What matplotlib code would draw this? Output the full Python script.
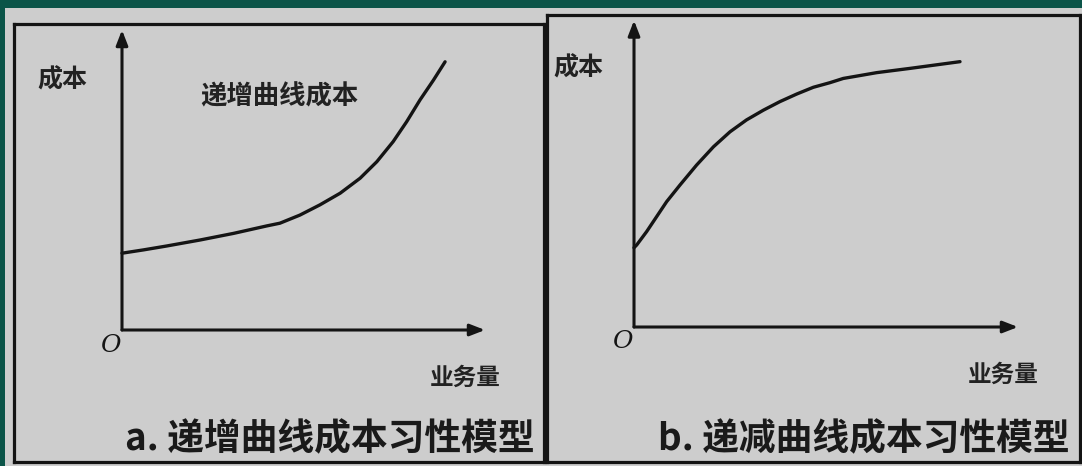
import matplotlib.pyplot as plt
import matplotlib.patches as mpatches

plt.rcParams['font.family'] = ['Noto Sans CJK SC', 'DejaVu Sans']

# curve a: increasing cost (业务量 vs 成本)
qty_a = [0.0, 0.59, 1.23, 2.15, 3.07, 3.99, 4.35, 4.90, 5.45, 6.01, 6.56, 7.02,
         7.47, 7.84, 8.21, 8.58, 8.90]
cost_a = [2.56, 2.67, 2.80, 3.00, 3.22, 3.47, 3.56, 3.83, 4.17, 4.56, 5.06, 5.61,
          6.28, 6.94, 7.67, 8.33, 8.94]

# curve b: decreasing-rate cost
qty_b = [0.0, 0.07, 0.33, 0.59, 0.85, 1.20, 1.63, 2.07, 2.50, 2.93, 3.37, 3.80,
         4.24, 4.67, 5.10, 5.45, 6.32, 7.19, 8.49]
cost_b = [2.60, 2.69, 3.13, 3.62, 4.11, 4.66, 5.31, 5.91, 6.40, 6.79, 7.11, 7.39,
          7.64, 7.86, 8.01, 8.15, 8.34, 8.48, 8.70]

y_label = "成本"
x_label = "业务量"
curve_label_a = "递增曲线成本"
caption_a = "a. 递增曲线成本习性模型"
caption_b = "b. 递减曲线成本习性模型"

W, H = 1082, 466
TEAL = "#0b5448"
GRAY = "#cdcdcd"
INK = "#141414"

fig = plt.figure(figsize=(W / 100, H / 100), dpi=100)
fig.patch.set_facecolor(TEAL)
fig.patches.append(mpatches.Rectangle((5 / W, 0), 1, (H - 8) / H,
                                      transform=fig.transFigure,
                                      facecolor=GRAY, edgecolor="none", zorder=-5))


def px_axes(x0, y0, x1, y1):
    # pixel box (top-left origin) -> figure axes
    return fig.add_axes([x0 / W, 1 - y1 / H, (x1 - x0) / W, (y1 - y0) / H])


def draw_panel(ax, xlim, ylim, qty, cost, ytop):
    ax.set_facecolor(GRAY)
    ax.set_xlim(*xlim)
    ax.set_ylim(*ylim)
    ax.set_xticks([])
    ax.set_yticks([])
    for sp in ax.spines.values():
        sp.set_linewidth(2.3)
        sp.set_color(INK)
    arrow = dict(arrowstyle="-|>,head_length=0.9,head_width=0.35",
                 color=INK, lw=2.2, shrinkA=0, shrinkB=0)
    ax.annotate("", xy=(0, ytop), xytext=(0, 0), arrowprops=arrow)
    ax.annotate("", xy=(10, 0), xytext=(0, 0), arrowprops=arrow)
    ax.plot(qty, cost, color=INK, lw=2.4, solid_capstyle="round",
            solid_joinstyle="round")


# ── panel a ──────────────────────────────────────────────
ax1 = px_axes(14, 24, 544, 462)
draw_panel(ax1, (-2.975, 11.625), (-4.4, 10.2), qty_a, cost_a, 10.0)
ax1.text(-1.63, 8.33, y_label, fontsize=18, fontweight="bold", ha="center", va="center", color="#222")
ax1.text(4.33, 7.77, curve_label_a, fontsize=19, fontweight="bold", ha="center", va="center", color="#222")
ax1.text(-0.33, -0.5, "O", fontsize=18, style="italic", family="DejaVu Serif",
         ha="center", va="center", color=INK)
ax1.text(9.45, -1.6, x_label, fontsize=17, fontweight="bold", ha="center", va="center", color="#222")
ax1.text(11.38, -3.67, caption_a, fontsize=26.5, fontweight="bold", ha="right", va="center", color="#1a1a1a")

# ── panel b ──────────────────────────────────────────────
ax2 = px_axes(547, 15, 1080, 462)
draw_panel(ax2, (-2.266, 11.615), (-4.426, 10.23), qty_b, cost_b, 10.05)
ax2.text(-1.46, 8.49, y_label, fontsize=18, fontweight="bold", ha="center", va="center", color="#222")
ax2.text(-0.31, -0.49, "O", fontsize=18, style="italic", family="DejaVu Serif",
         ha="center", va="center", color=INK)
ax2.text(9.61, -1.57, x_label, fontsize=17, fontweight="bold", ha="center", va="center", color="#222")
ax2.text(11.35, -3.70, caption_b, fontsize=26.5, fontweight="bold", ha="right", va="center", color="#1a1a1a")

fig.savefig("out.png", dpi=100, facecolor=fig.get_facecolor())
